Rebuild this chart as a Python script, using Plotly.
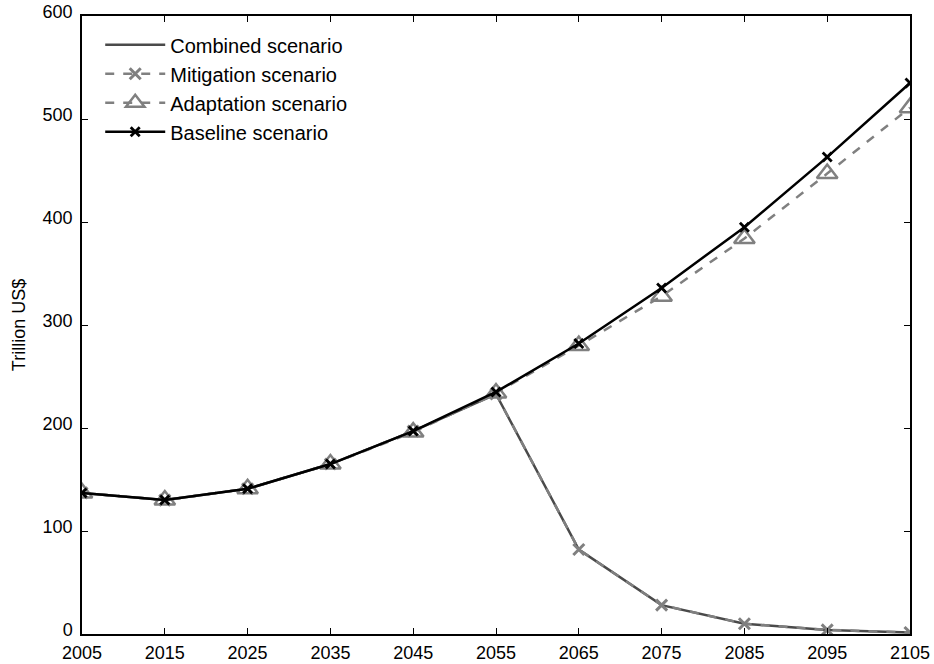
import plotly.graph_objects as go

years = [2005, 2015, 2025, 2035, 2045, 2055, 2065, 2075, 2085, 2095, 2105]
baseline = [137, 130, 141, 165, 197, 235, 282, 336, 395, 463, 535]
adaptation = [137, 130, 141, 165, 196, 234, 280, 328, 384, 447, 511]
mitigation = [137, 130, 141, 165, 197, 233, 82, 28, 10, 4, 1.5]
combined = [137, 130, 141, 165, 197, 233, 82, 28, 10, 4, 1.5]
y_ticks = [0, 100, 200, 300, 400, 500, 600]

FONT = "Liberation Sans, Arial, Helvetica, sans-serif"
GRAY = "#808080"

fig = go.Figure()
fig.add_trace(go.Scatter(
    x=years, y=combined, name="Combined scenario", mode="lines",
    line=dict(color="#4a4a4a", width=2.5),
))
fig.add_trace(go.Scatter(
    x=years, y=mitigation, name="Mitigation scenario", mode="lines+markers",
    line=dict(color=GRAY, width=2.5, dash="dash"),
    marker=dict(symbol="x-thin-open", size=11, line=dict(color=GRAY, width=3), color=GRAY),
))
fig.add_trace(go.Scatter(
    x=years, y=adaptation, name="Adaptation scenario", mode="lines+markers",
    line=dict(color=GRAY, width=2.5, dash="dash"),
    marker=dict(symbol="triangle-up-open", size=18, line=dict(color=GRAY, width=2.5), color=GRAY),
))
fig.add_trace(go.Scatter(
    x=years, y=baseline, name="Baseline scenario", mode="lines+markers",
    line=dict(color="black", width=2.5),
    marker=dict(symbol="x-thin-open", size=9, line=dict(color="black", width=2.8), color="black"),
))

axis_common = dict(
    showgrid=False, zeroline=False, showline=True, linecolor="black", linewidth=1.5,
    mirror="allticks", ticks="inside", ticklen=6, tickcolor="black", tickwidth=1,
    tickfont=dict(family=FONT, size=18, color="black"), automargin=False,
)

fig.update_layout(
    width=934, height=664,
    margin=dict(l=82, r=24, t=16, b=30),
    paper_bgcolor="white", plot_bgcolor="white",
    font=dict(family=FONT, size=18, color="black"),
    showlegend=True,
    legend=dict(
        x=0.022, y=0.985, xanchor="left", yanchor="top",
        bgcolor="rgba(0,0,0,0)", borderwidth=0,
        font=dict(family=FONT, size=20, color="black"),
        tracegroupgap=0, itemwidth=60,
    ),
    xaxis=dict(range=[2005, 2105], tickmode="array", tickvals=years, ticklabelstandoff=2, **axis_common),
    yaxis=dict(range=[0, 600], tickmode="array", tickvals=y_ticks,
               ticklabelshift=-4, ticklabelstandoff=4,
               title=dict(text="Trillion US$", font=dict(family=FONT, size=18, color="black"), standoff=12),
               **axis_common),
)

fig.write_html("out.html")
